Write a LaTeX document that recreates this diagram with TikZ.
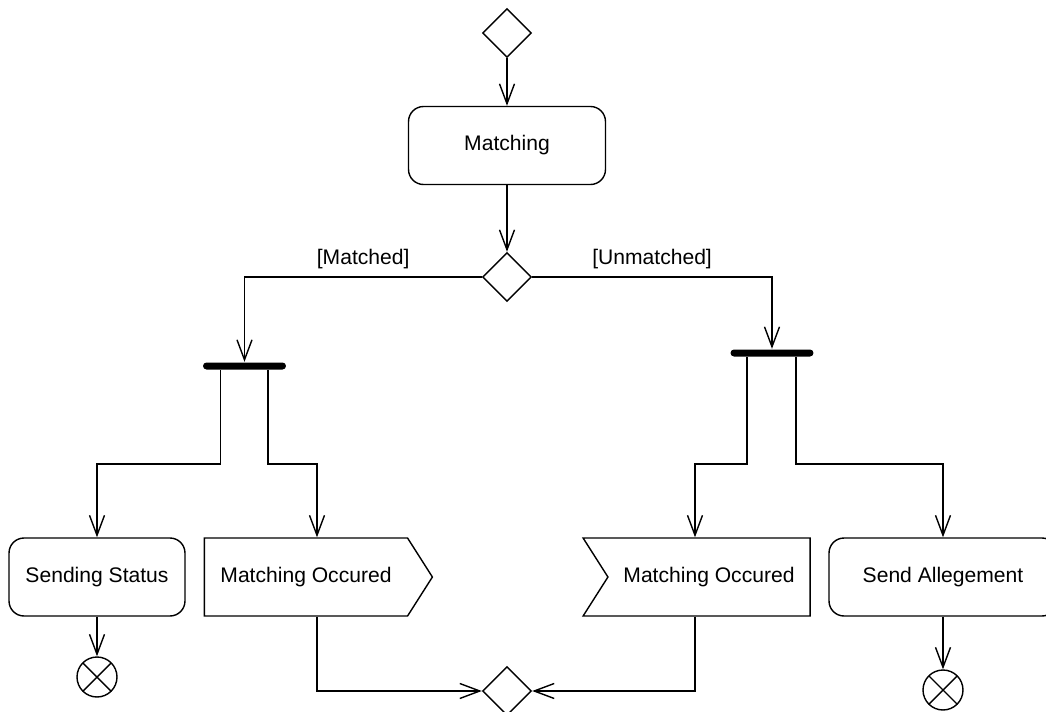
\documentclass[tikz,border=0pt]{standalone}
\usepackage{fontspec}
\setmainfont{Liberation Sans}
\usetikzlibrary{arrows.meta,shapes.geometric,shapes.symbols}

\begin{document}
\begin{tikzpicture}[x=0.02cm, y=-0.02cm, line width=0.8pt,
    >={Straight Barb[length=0.4cm, width=0.3cm]},
    every node/.style={font=\fontsize{12}{14}\selectfont},
    decision/.style={draw, diamond, minimum width=0.98cm, minimum height=0.98cm, inner sep=0pt},
    action/.style={draw, rectangle, rounded corners=0.3cm, minimum height=1.56cm},
    forkbar/.style={fill=black, rectangle, rounded corners=0.07cm, minimum width=1.66cm, minimum height=0.14cm, inner sep=0pt},
    sendsig/.style={draw, signal, signal to=east, signal pointer angle=115, minimum width=4.56cm, minimum height=1.56cm},
    acceptsig/.style={draw, signal, signal from=west, signal to=nowhere, signal pointer angle=115, minimum width=4.54cm, minimum height=1.56cm},
    flowend/.style={draw, circle, minimum size=0.8cm, inner sep=0pt,
      path picture={\draw (path picture bounding box.south west) -- (path picture bounding box.north east)
        (path picture bounding box.north west) -- (path picture bounding box.south east);}}]
    \useasboundingbox (0,0) rectangle (1046,711);

    % Start og matching
    \node[decision] (start) at (507, 33) {};
    \node[action, minimum width=3.94cm] (matching) at (507, 145.5) {Matching};
    \node[decision] (check) at (507, 277) {};
    \draw[->] (start.south) -- (matching.north);
    \draw[->] (matching.south) -- (check.north);

    % Forgreninger
    \node[forkbar] (forkL) at (244.5, 366) {};
    \node[forkbar] (forkR) at (772, 353) {};
    \draw[->] (check.west) -| (forkL.north) node[pos=0.25, above=1pt] {[Matched]};
    \draw[->] (check.east) -| (forkR.north) node[pos=0.25, above=1pt] {[Unmatched]};
    \coordinate (turn) at (0, 464);

    % Aktiviteter
    \node[action, minimum width=3.52cm] (sendStatus) at (97, 577) {Sending Status};
    \node[sendsig] (occL) at (306, 577) {Matching Occured};
    \node[acceptsig] (occR) at (709, 577) {Matching Occured};
    \node[action, minimum width=4.56cm] (allege) at (943, 577) {Send Allegement};
    \coordinate (occLtop) at ([xshift=0.22cm]occL.north);
    \coordinate (occLbot) at ([xshift=0.22cm]occL.south);
    \coordinate (occRtop) at ([xshift=-0.28cm]occR.north);
    \coordinate (occRbot) at ([xshift=-0.28cm]occR.south);

    \draw[->] ([xshift=-0.48cm]forkL.south) |- (turn -| sendStatus) -- (sendStatus.north);
    \draw[->] ([xshift=0.47cm]forkL.south) |- (turn -| occLtop) -- (occLtop);
    \draw[->] ([xshift=-0.5cm]forkR.south) |- (turn -| occRtop) -- (occRtop);
    \draw[->] ([xshift=0.48cm]forkR.south) |- (turn -| allege) -- (allege.north);

    % Slutt
    \node[flowend] (endL) at (97, 677) {};
    \node[flowend] (endR) at (943, 690) {};
    \node[decision] (merge) at (507, 691) {};
    \draw[->] (sendStatus.south) -- (endL.north);
    \draw[->] (allege.south) -- (endR.north);
    \draw[->] (occLbot) |- (merge.west);
    \draw[->] (occRbot) |- (merge.east);
  \end{tikzpicture}
\end{document}
